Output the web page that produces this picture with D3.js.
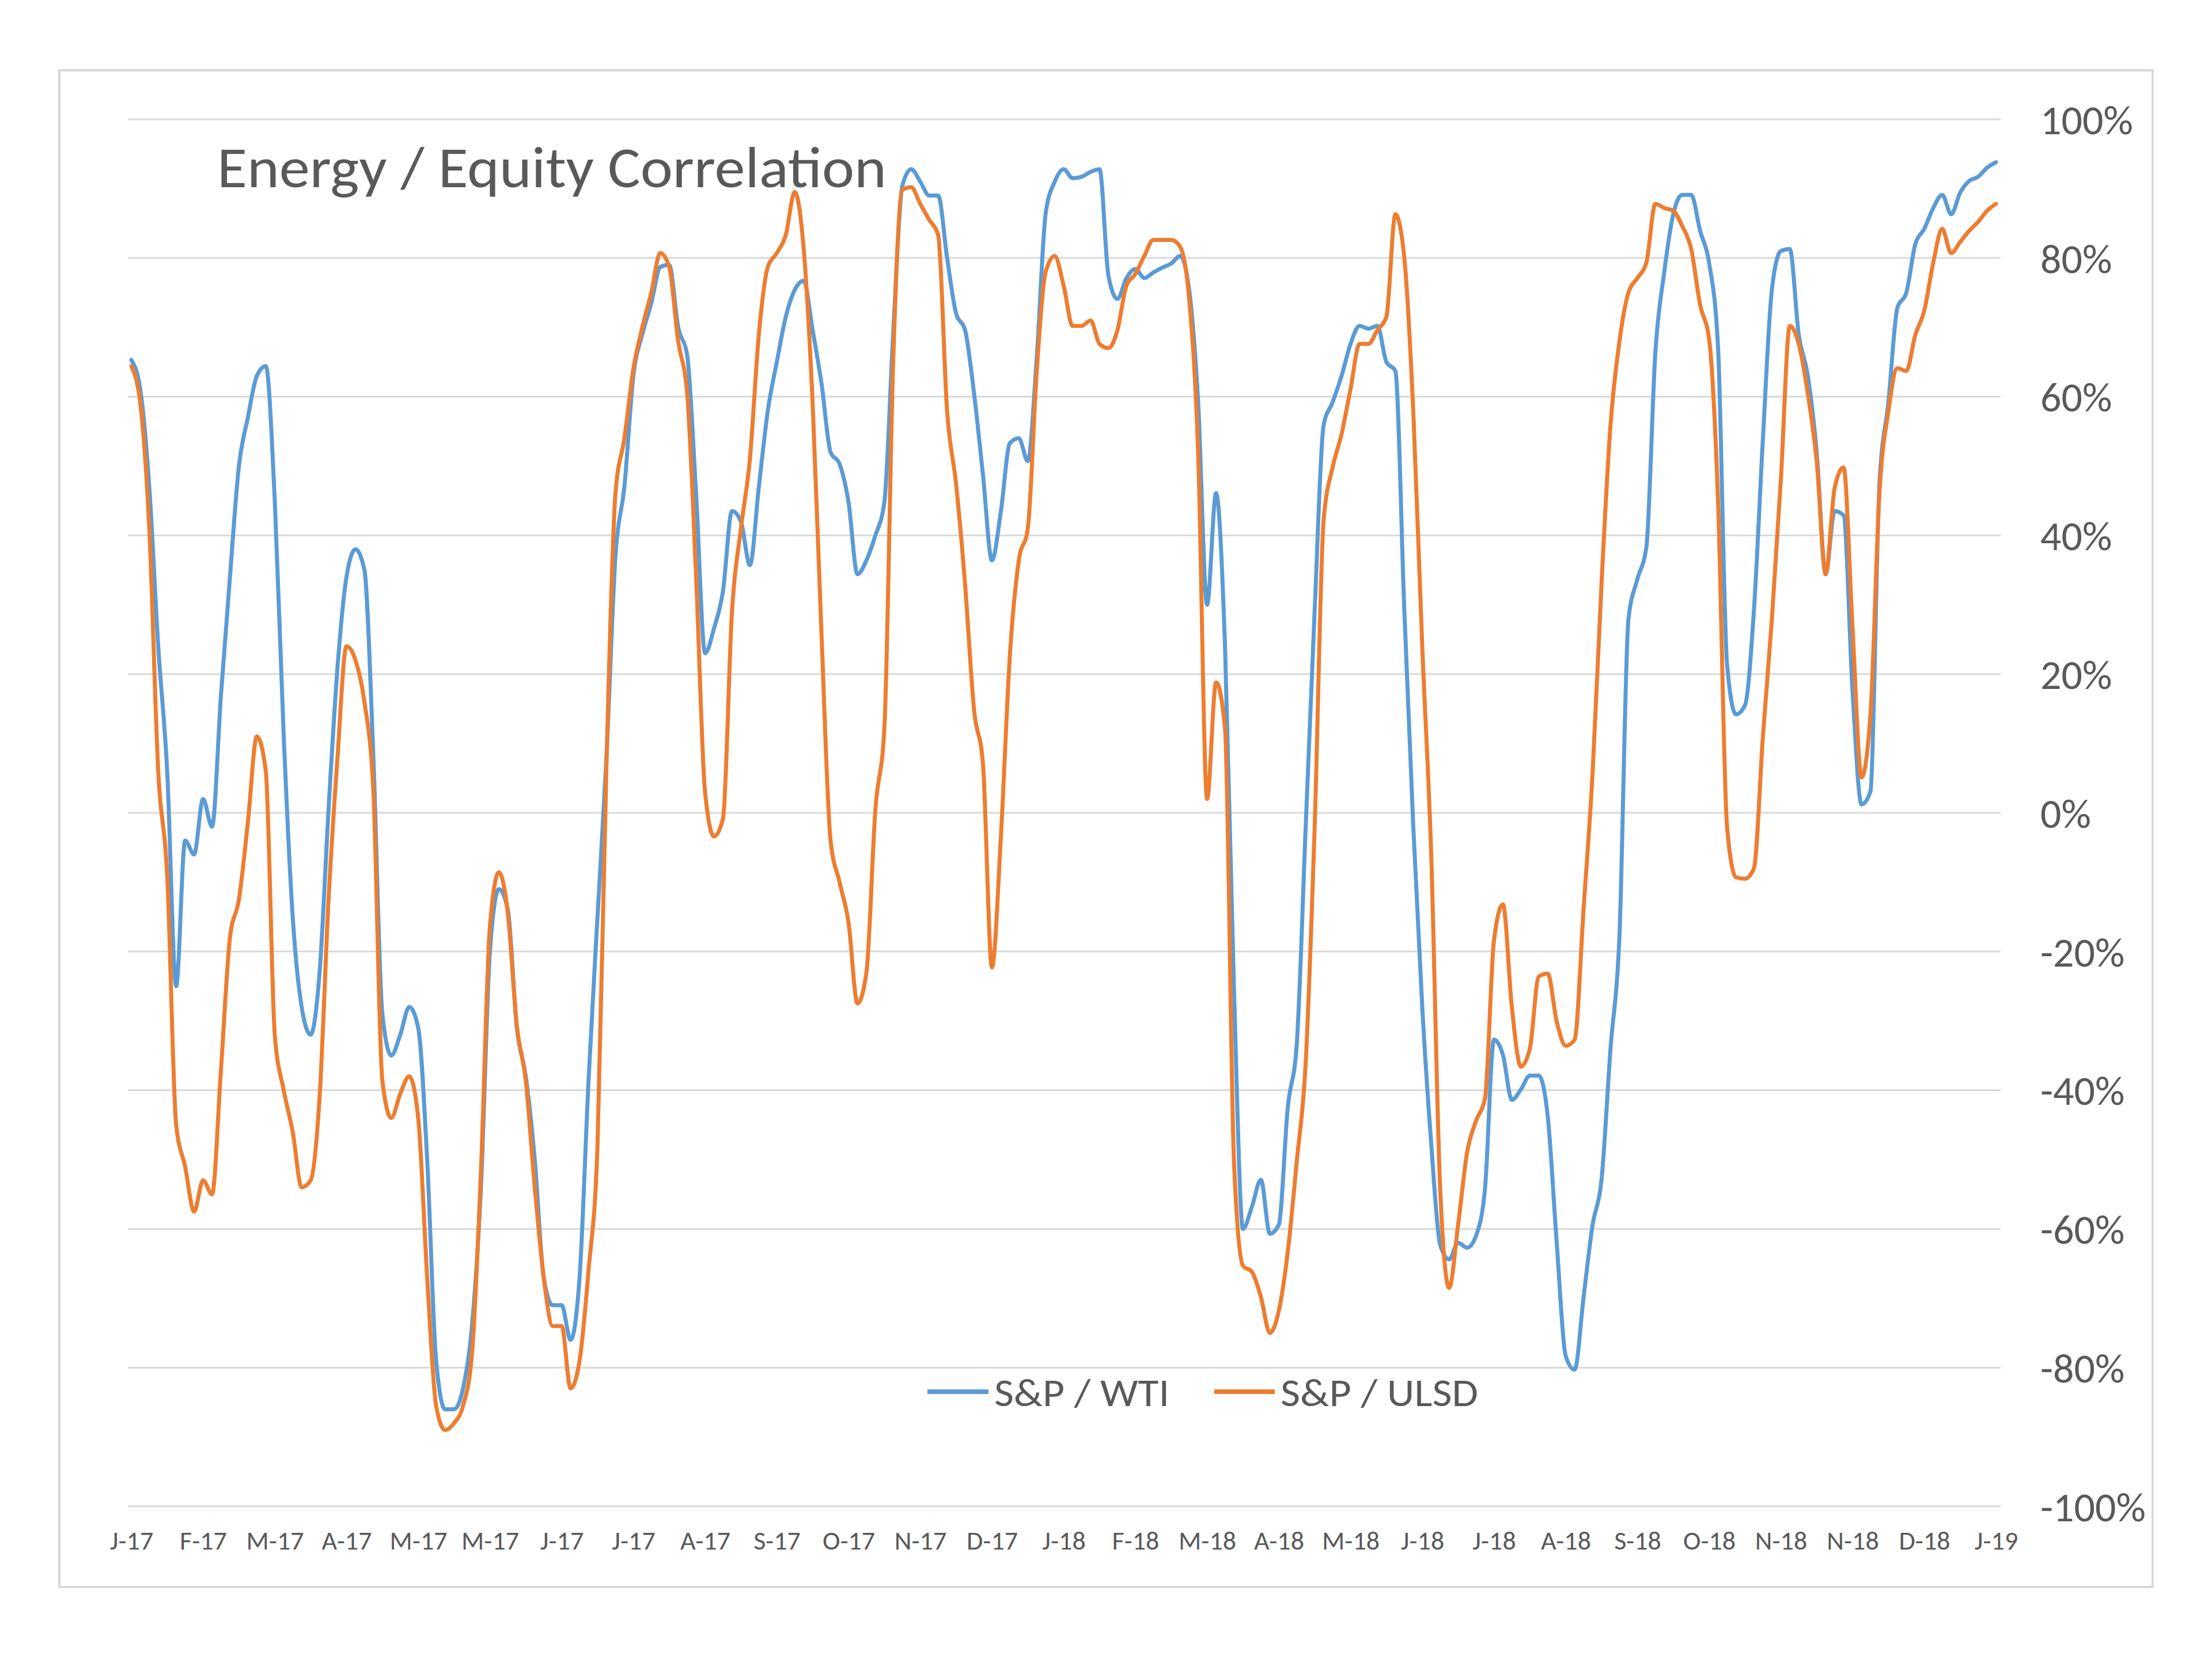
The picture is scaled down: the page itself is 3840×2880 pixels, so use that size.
<!DOCTYPE html>
<html>
<head>
<meta charset="utf-8">
<script src="https://cdn.jsdelivr.net/npm/d3@7"></script>
<style>
  html, body { margin: 0; padding: 0; background: #ffffff; }
  svg { display: block; }
  text { font-family: Calibri, Carlito, "Open Sans", sans-serif; fill: #595959; }
</style>
</head>
<body>
<script>
// ---- data ----
const xLabels = ["J-17","F-17","M-17","A-17","M-17","M-17","J-17","J-17","A-17","S-17","O-17","N-17","D-17",
                 "J-18","F-18","M-18","A-18","M-18","J-18","J-18","A-18","S-18","O-18","N-18","N-18","D-18","J-19"];
const samplesPerLabel = 8;
const yTicks = [-100, -80, -60, -40, -20, 0, 20, 40, 60, 80, 100];
const seriesNames = ["S&P / WTI", "S&P / ULSD"];
const seriesColors = ["#5B9BD5", "#ED7D31"];
const chartTitle = "Energy / Equity Correlation";

// correlation (%) sampled 8 times per label interval
const wti = [
  65.3, 61, 47, 24, 6, -25, -4, -6, 2, -2, 17, 34, 50, 57, 63, 64.4,
  45, 11, -15, -28, -32, -23, 0.5, 21, 34, 38, 35, 8, -29, -35, -32, -28,
  -31, -50, -79, -86, -86, -83, -74, -54, -20, -11, -14, -31, -38, -50, -67, -71,
  -71, -76, -67, -38.6, -15, 8, 37, 47, 63, 69, 73.5, 78.7, 79, 70, 66, 46,
  23, 26.6, 32, 43.5, 42, 35.7, 47, 58, 65, 71.5, 75.4, 76.7, 69.6, 61.8, 52, 50.3,
  44.8, 34.4, 36.4, 40, 44.8, 69.6, 90.4, 92.8, 91, 89, 89, 80, 72, 69.6, 60.5, 48.7,
  36.4, 43.5, 53.3, 54, 50.7, 65.7, 86.5, 91, 92.8, 91.5, 91.7, 92.4, 92.8, 77.4, 74.1, 77.1,
  78.4, 77.1, 77.9, 78.6, 79.2, 80.3, 75.4, 59.2, 30, 46.1, 24, -25.5, -60, -56.8, -52.9, -60.7,
  -59.4, -42.5, -33.4, -2, 29.2, 55.9, 59.2, 63, 67.6, 70.2, 69.8, 70.2, 65, 63.7, 29.2, -2,
  -28, -47.7, -62.3, -64.4, -62, -62.7, -61, -54.2, -32.7, -34.9, -41.4, -39.9, -37.9, -37.9, -43.8, -62,
  -78.3, -80.3, -69.8, -59.4, -52.9, -34, -17.7, 27.9, 33.7, 38.3, 66.3, 78, 86.3, 89.1, 89.1, 83.9,
  79.3, 67, 21.4, 14.2, 15.5, 29.2, 53.9, 75.4, 81, 81.3, 68.9, 63.1, 52, 34.4, 43.5, 42.9,
  17.5, 1.2, 3.1, 47.4, 59.2, 72.8, 75, 82, 84.2, 87.2, 89.1, 86.3, 89.4, 91.1, 91.7, 93,
  93.8
];
const ulsd = [
  64.4, 59, 41, 6, -9, -45, -51, -57.5, -53, -55, -37, -18, -12.5, -1.4, 11, 6,
  -32, -40, -46, -54, -53, -41, -12.5, 8, 24, 22, 16, 3, -38.6, -44, -40.5, -38,
  -44, -67, -85.5, -89, -88, -85.5, -78, -51.6, -16.4, -8.6, -14.5, -30.7, -38.6, -54, -67, -74,
  -74, -83, -79, -66, -48, 7, 46, 54, 64, 70, 75, 80.7, 78.7, 68, 60.5, 34,
  3, -3.4, -0.8, 29, 41, 51, 69, 78.7, 80.7, 83.3, 89.5, 81.3, 59, 25.3, -4, -10,
  -15.8, -27.5, -23, 0.5, 12.2, 65.7, 89.8, 90.2, 87.8, 85.5, 83.3, 57.9, 47.4, 33, 14.9, 7,
  -22.3, -3.4, 22.7, 36.4, 41, 63.7, 78, 80.3, 76, 70.2, 70.2, 71, 67.6, 67, 69.6, 76,
  77.7, 80.3, 82.6, 82.6, 82.6, 81.6, 74.1, 52, 2, 18.8, 12.2, -50.3, -65.3, -66.2, -69.8, -75,
  -71.8, -63.3, -50.3, -36, -2, 42.2, 49.8, 54.6, 61.1, 67.6, 67.6, 69.6, 71.5, 86.3, 80, 57.9,
  24, -6, -54.2, -68.5, -59.4, -49, -44.4, -41.2, -18.4, -13.2, -28.1, -36.6, -34, -23.6, -23.2, -30.1,
  -33.6, -32.7, -13.8, 5.7, 33.1, 55.9, 68, 75, 77.1, 79.3, 87.8, 87.2, 86.8, 84.6, 81.3, 73.2,
  68.3, 44.8, -2, -9.3, -9.5, -8, 11, 27.9, 48, 70.2, 67.6, 60.5, 50.7, 34.4, 46.8, 49.8,
  26.6, 5.1, 14.2, 46.1, 57.9, 64.1, 63.7, 68.9, 72.4, 79.3, 84.2, 80.7, 82.3, 83.9, 85.2, 86.8,
  87.8
];

// ---- layout ----
const W = 3840, H = 2880;
const svg = d3.select("body").append("svg").attr("width", W).attr("height", H);
svg.append("rect").attr("width", W).attr("height", H).attr("fill", "#ffffff");

// outer chart border
svg.append("rect")
  .attr("x", 103).attr("y", 122).attr("width", 3634).attr("height", 2633)
  .attr("fill", "none").attr("stroke", "#d9d9d9").attr("stroke-width", 4);

const nPts = wti.length;
const x = d3.scaleLinear().domain([0, nPts - 1]).range([228, 3465]);
const y = d3.scaleLinear().domain([-100, 100]).range([2615, 207]);

// gridlines
svg.append("g").selectAll("line").data(yTicks).join("line")
  .attr("x1", 222).attr("x2", 3473)
  .attr("y1", d => y(d)).attr("y2", d => y(d))
  .attr("stroke", "#d9d9d9").attr("stroke-width", 3);

// y axis on the right
const yAxis = d3.axisRight(y).tickValues(yTicks).tickSize(0).tickPadding(0)
  .tickFormat(d => d + "%");
const gy = svg.append("g").attr("transform", "translate(3542,0)").call(yAxis);
gy.select(".domain").remove();
gy.selectAll("text").style("font-size", "72px").style("font-family", "Calibri, Carlito, 'Open Sans', sans-serif")
  .attr("fill", "#595959").attr("dy", "0.35em");

// x axis
const tickIdx = xLabels.map((_, i) => i * samplesPerLabel);
const xAxis = d3.axisBottom(x).tickValues(tickIdx).tickSize(0).tickPadding(0)
  .tickFormat((d, i) => xLabels[i]);
const gx = svg.append("g").attr("transform", "translate(0,2674)").call(xAxis);
gx.select(".domain").remove();
gx.selectAll("text").style("font-size", "46px").style("font-family", "Calibri, Carlito, 'Open Sans', sans-serif")
  .attr("fill", "#595959").attr("dy", "0.35em").attr("y", 0);

// lines
const line = d3.line().x((d, i) => x(i)).y(d => y(d)).curve(d3.curveMonotoneX);
[wti, ulsd].forEach((s, k) => {
  svg.append("path").datum(s)
    .attr("d", line)
    .attr("fill", "none")
    .attr("stroke", seriesColors[k])
    .attr("stroke-width", 7)
    .attr("stroke-linejoin", "round")
    .attr("stroke-linecap", "round");
});

// title
svg.append("text")
  .attr("x", 377).attr("y", 325)
  .attr("textLength", 1162).attr("lengthAdjust", "spacingAndGlyphs")
  .style("font-size", "100px")
  .text(chartTitle);

// legend
const legendItems = [
  { x1: 1610, x2: 1716, tx: 1726, tw: 304 },
  { x1: 2108, x2: 2213, tx: 2223, tw: 343 }
];
legendItems.forEach((it, k) => {
  svg.append("line").attr("x1", it.x1).attr("x2", it.x2).attr("y1", 2416).attr("y2", 2416)
    .attr("stroke", seriesColors[k]).attr("stroke-width", 8);
  svg.append("text").attr("x", it.tx).attr("y", 2441)
    .attr("textLength", it.tw).attr("lengthAdjust", "spacingAndGlyphs")
    .style("font-size", "68px")
    .text(seriesNames[k]);
});
</script>
</body>
</html>
